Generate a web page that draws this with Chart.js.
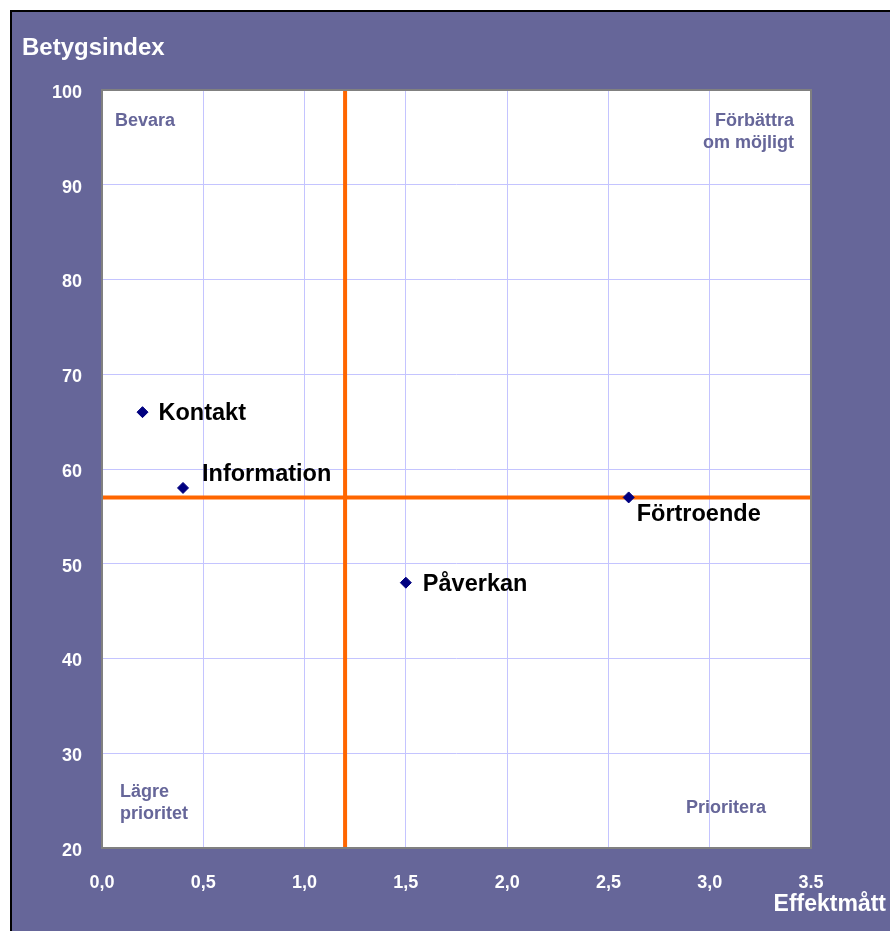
<!DOCTYPE html>
<html lang="sv">
<head>
<meta charset="UTF-8">
<title>Betygsindex / Effektmått</title>
<script src="https://cdn.jsdelivr.net/npm/chart.js"></script>
<style>
  html, body { margin: 0; padding: 0; background: #ffffff; }
  #wrap { width: 890px; height: 931px; }
</style>
</head>
<body>
<div id="wrap"><canvas id="chart" width="890" height="931"></canvas></div>
<script>
// data
const names = ['Kontakt', 'Information', 'Påverkan', 'Förtroende'];
const effekt = [0.2, 0.4, 1.5, 2.6];
const betyg = [66, 58, 48, 57];
const xTickLabels = ['0,0', '0,5', '1,0', '1,5', '2,0', '2,5', '3,0', '3.5'];
const yTicks = [20, 30, 40, 50, 60, 70, 80, 90, 100];
const splitX = 1.2;
const splitY = 57;

// label offsets from each point: [dx, dy]
const labelOffsets = [[16, 1], [19, -13], [17, 2], [8, 17]];

const purple = '#666699';
const font = '"Liberation Sans", Arial, sans-serif';

const frame = {
  id: 'frame',
  beforeDraw(chart) {
    const ctx = chart.ctx, a = chart.chartArea;
    ctx.save();
    ctx.fillStyle = '#ffffff';
    ctx.fillRect(0, 0, chart.width, chart.height);
    ctx.fillStyle = purple;
    ctx.fillRect(10, 10, chart.width - 10, chart.height - 10);
    ctx.strokeStyle = '#000000';
    ctx.lineWidth = 2;
    ctx.beginPath();
    ctx.moveTo(11, chart.height);
    ctx.lineTo(11, 11);
    ctx.lineTo(chart.width, 11);
    ctx.stroke();
    ctx.fillStyle = '#ffffff';
    ctx.fillRect(a.left, a.top, a.right - a.left, a.bottom - a.top);
    ctx.restore();
  },
  afterDraw(chart) {
    const ctx = chart.ctx, a = chart.chartArea;
    const xs = chart.scales.x, ys = chart.scales.y;
    ctx.save();
    ctx.strokeStyle = '#808080';
    ctx.lineWidth = 2;
    ctx.strokeRect(a.left, a.top, a.right - a.left, a.bottom - a.top);

    // axis titles
    ctx.fillStyle = '#ffffff';
    ctx.textBaseline = 'middle';
    ctx.font = 'bold 24px ' + font;
    ctx.textAlign = 'left';
    ctx.fillText('Betygsindex', 22, 48);
    ctx.font = 'bold 23px ' + font;
    ctx.textAlign = 'right';
    ctx.fillText('Effektmått', 886, 905);

    // quadrant labels
    ctx.fillStyle = purple;
    ctx.font = 'bold 18px ' + font;
    ctx.textAlign = 'left';
    ctx.fillText('Bevara', a.left + 13, a.top + 31);
    ctx.fillText('Lägre', a.left + 18, a.bottom - 56);
    ctx.fillText('prioritet', a.left + 18, a.bottom - 34);
    ctx.textAlign = 'right';
    ctx.fillText('Förbättra', a.right - 17, a.top + 31);
    ctx.fillText('om möjligt', a.right - 17, a.top + 53);
    ctx.textAlign = 'center';
    ctx.fillText('Prioritera', a.right - 85, a.bottom - 40);

    // point labels
    ctx.fillStyle = '#000000';
    ctx.font = 'bold 23.5px ' + font;
    ctx.textAlign = 'left';
    names.forEach((n, i) => {
      const px = xs.getPixelForValue(effekt[i]);
      const py = ys.getPixelForValue(betyg[i]);
      ctx.fillText(n, px + labelOffsets[i][0], py + labelOffsets[i][1]);
    });
    ctx.restore();
  }
};

new Chart(document.getElementById('chart'), {
  type: 'scatter',
  data: {
    datasets: [
      {
        data: effekt.map((x, i) => ({ x: x, y: betyg[i] })),
        pointStyle: 'rectRot',
        pointRadius: 5.5,
        backgroundColor: '#000080',
        borderColor: '#000080',
        borderWidth: 1,
        order: 0
      },
      {
        data: [{ x: splitX, y: 20 }, { x: splitX, y: 100 }],
        showLine: true,
        borderColor: '#ff6600',
        borderWidth: 4,
        pointRadius: 0,
        order: 1
      },
      {
        data: [{ x: 0, y: splitY }, { x: 3.5, y: splitY }],
        showLine: true,
        borderColor: '#ff6600',
        borderWidth: 4,
        pointRadius: 0,
        order: 1
      }
    ]
  },
  options: {
    responsive: false,
    animation: false,
    events: [],
    layout: { padding: { left: 0, top: 90, right: 79, bottom: 0 } },
    plugins: {
      legend: { display: false },
      tooltip: { enabled: false }
    },
    scales: {
      x: {
        type: 'linear',
        min: 0,
        max: 3.5,
        afterFit(s) { s.height = 83; },
        afterBuildTicks(s) { s.ticks = xTickLabels.map((l, i) => ({ value: i * 0.5 })); },
        grid: { color: '#c4c4ff', lineWidth: 1, drawTicks: false },
        border: { display: false },
        ticks: {
          padding: 24,
          color: '#ffffff',
          font: { family: font, size: 18, weight: 'bold' },
          maxRotation: 0,
          autoSkip: false,
          callback: (v, i) => xTickLabels[i]
        }
      },
      y: {
        type: 'linear',
        min: 20,
        max: 100,
        afterFit(s) { s.width = 102; },
        afterBuildTicks(s) { s.ticks = yTicks.map(v => ({ value: v })); },
        grid: { color: '#c4c4ff', lineWidth: 1, drawTicks: false },
        border: { display: false },
        ticks: {
          padding: 20,
          labelOffset: 3,
          color: '#ffffff',
          font: { family: font, size: 18, weight: 'bold' },
          autoSkip: false,
          callback: v => String(v)
        }
      }
    }
  },
  plugins: [frame]
});
</script>
</body>
</html>
